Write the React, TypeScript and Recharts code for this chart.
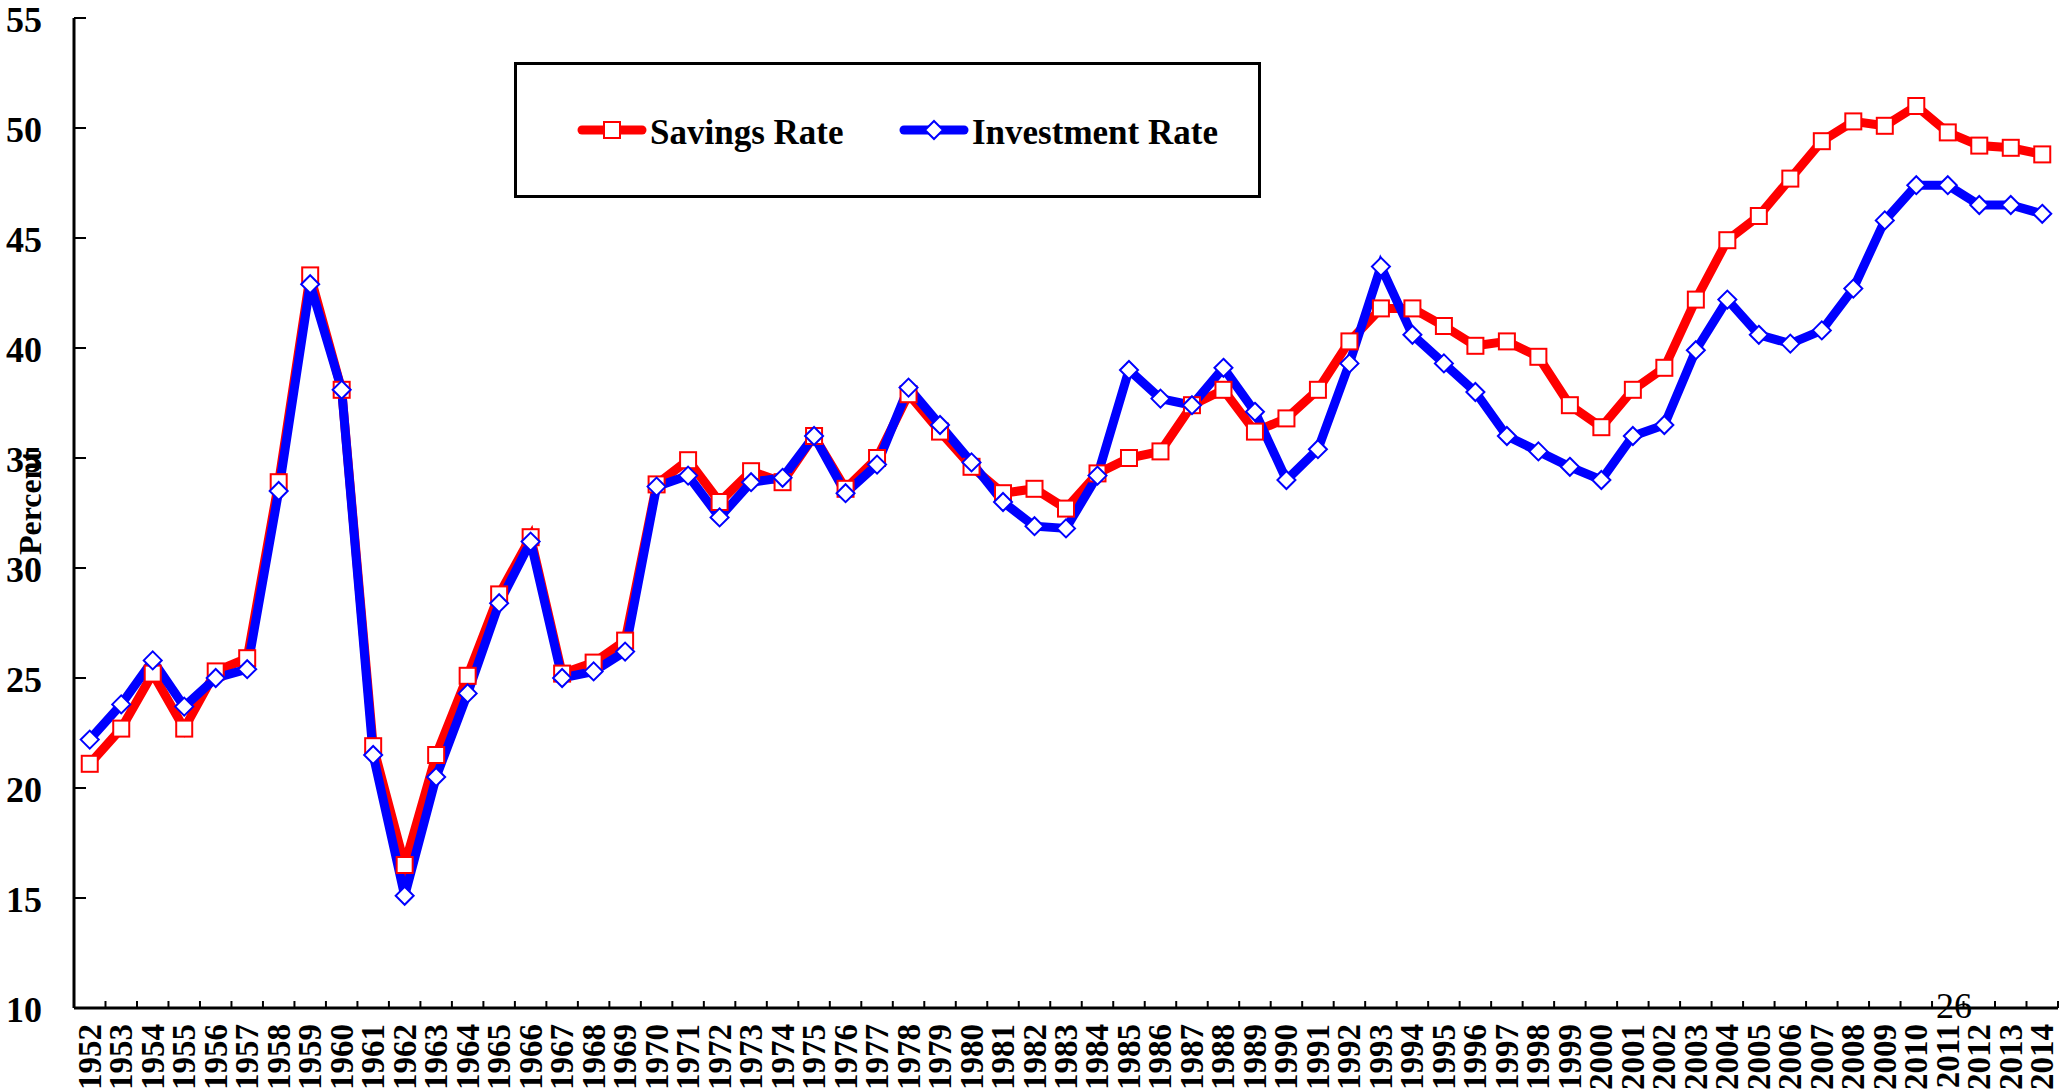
import React from "react";
import { LineChart, Line, XAxis, YAxis, Legend } from "recharts";

const years = [
  "1952", "1953", "1954", "1955", "1956", "1957", "1958", "1959", "1960", "1961",
  "1962", "1963", "1964", "1965", "1966", "1967", "1968", "1969", "1970", "1971",
  "1972", "1973", "1974", "1975", "1976", "1977", "1978", "1979", "1980", "1981",
  "1982", "1983", "1984", "1985", "1986", "1987", "1988", "1989", "1990", "1991",
  "1992", "1993", "1994", "1995", "1996", "1997", "1998", "1999", "2000", "2001",
  "2002", "2003", "2004", "2005", "2006", "2007", "2008", "2009", "2010", "2011",
  "2012", "2013", "2014",
];

const savingsRate = [
  21.1, 22.7, 25.2, 22.7, 25.3, 25.9, 33.9, 43.3, 38.1, 21.9,
  16.5, 21.5, 25.1, 28.8, 31.4, 25.2, 25.7, 26.7, 33.8, 34.9,
  33.0, 34.4, 33.9, 36.0, 33.6, 35.0, 37.9, 36.2, 34.6, 33.4,
  33.6, 32.7, 34.3, 35.0, 35.3, 37.4, 38.1, 36.2, 36.8, 38.1,
  40.3, 41.8, 41.8, 41.0, 40.1, 40.3, 39.6, 37.4, 36.4, 38.1,
  39.1, 42.2, 44.9, 46.0, 47.7, 49.4, 50.3, 50.1, 51.0, 49.8,
  49.2, 49.1, 48.8,
];

const investmentRate = [
  22.2, 23.8, 25.8, 23.7, 25.0, 25.4, 33.5, 42.9, 38.1, 21.5,
  15.1, 20.5, 24.3, 28.4, 31.2, 25.0, 25.3, 26.2, 33.7, 34.2,
  32.3, 33.9, 34.1, 36.0, 33.4, 34.7, 38.2, 36.5, 34.8, 33.0,
  31.9, 31.8, 34.2, 39.0, 37.7, 37.4, 39.1, 37.1, 34.0, 35.4,
  39.3, 43.7, 40.6, 39.3, 38.0, 36.0, 35.3, 34.6, 34.0, 36.0,
  36.5, 39.9, 42.2, 40.6, 40.2, 40.8, 42.7, 45.8, 47.4, 47.4,
  46.5, 46.5, 46.1,
];

const yTicks = [10, 15, 20, 25, 30, 35, 40, 45, 50, 55];

const data = years.map((year, i) => ({
  year,
  savings: savingsRate[i],
  investment: investmentRate[i],
}));

const W = 2063;
const H = 1092;
const MARGIN = { top: 18, right: 5, left: 0, bottom: 0 };
const Y_AXIS_W = 74;
const X_AXIS_H = 84;
const FONT = '"Liberation Serif", "Times New Roman", serif';
const RED = "#ff0000";
const BLUE = "#0000ff";
const LINE_W = 9;

// width of one year slot; points sit in the middle of their slot
const bandWidth = (W - MARGIN.left - MARGIN.right - Y_AXIS_W) / years.length;

const SquareDot = (props: any) => {
  const { cx, cy, index } = props;
  if (cx == null || cy == null) return <g key={`s-${index}`} />;
  return (
    <rect key={`s-${index}`} x={cx - 8} y={cy - 8} width={16} height={16}
      fill="#fff" stroke={RED} strokeWidth={2} />
  );
};

const DiamondDot = (props: any) => {
  const { cx, cy, index } = props;
  if (cx == null || cy == null) return <g key={`d-${index}`} />;
  const r = 9;
  return (
    <polygon key={`d-${index}`}
      points={`${cx},${cy - r} ${cx + r},${cy} ${cx},${cy + r} ${cx - r},${cy}`}
      fill="#fff" stroke={BLUE} strokeWidth={2} />
  );
};

const XTick = (props: any) => {
  const { x, y, payload } = props;
  const edge = x + bandWidth / 2;
  const ty = y + 16;
  return (
    <g>
      <line x1={edge} y1={y} x2={edge} y2={y - 7} stroke="#000" strokeWidth={2} />
      <text x={x} y={ty} transform={`rotate(-90, ${x}, ${ty})`}
        textAnchor="end" dominantBaseline="central"
        fontFamily={FONT} fontWeight="bold" fontSize={33} fill="#000">
        {payload.value}
      </text>
    </g>
  );
};

const YTick = (props: any) => {
  const { x, y, payload } = props;
  return (
    <g>
      <line x1={x} y1={y} x2={x + 12} y2={y} stroke="#000" strokeWidth={2} />
      <text x={x - 32} y={y + 2} textAnchor="end" dominantBaseline="central"
        fontFamily={FONT} fontWeight="bold" fontSize={36} fill="#000">
        {payload.value}
      </text>
    </g>
  );
};

const LegendBox = (props: any) => {
  const items = props.payload || [];
  const order = ["savings", "investment"];
  const starts: Record<string, number> = { savings: 64, investment: 386 };
  const sorted = order
    .map((k) => items.find((it: any) => it.dataKey === k))
    .filter(Boolean);
  return (
    <svg width={747} height={136}>
      <rect x={1.5} y={1.5} width={744} height={133} fill="#fff" stroke="#000" strokeWidth={3} />
      {sorted.map((item: any) => {
        const sx = starts[item.dataKey];
        const cy = 68;
        const mid = sx + 34;
        return (
          <g key={item.value}>
            <line x1={sx + 4} y1={cy} x2={sx + 64} y2={cy} stroke={item.color}
              strokeWidth={LINE_W} strokeLinecap="round" />
            {item.dataKey === "savings" ? (
              <rect x={mid - 8} y={cy - 8} width={16} height={16} fill="#fff" stroke={RED} strokeWidth={2} />
            ) : (
              <polygon points={`${mid},${cy - 9} ${mid + 9},${cy} ${mid},${cy + 9} ${mid - 9},${cy}`}
                fill="#fff" stroke={BLUE} strokeWidth={2} />
            )}
            <text x={sx + 72} y={cy + 2} dominantBaseline="central" fontFamily={FONT}
              fontWeight="bold" fontSize={35} fill="#000">
              {item.value}
            </text>
          </g>
        );
      })}
    </svg>
  );
};

export default function App() {
  return (
    <div style={{ position: "absolute", left: 0, top: 0, width: W, height: H, background: "#fff" }}>
      <LineChart width={W} height={H} data={data} margin={MARGIN}>
        <XAxis dataKey="year" height={X_AXIS_H} interval={0} tick={<XTick />}
          padding={{ left: bandWidth / 2, right: bandWidth / 2 }}
          tickLine={false} tickSize={0} tickMargin={0}
          axisLine={{ stroke: "#000", strokeWidth: 3 }} />
        <YAxis domain={[10, 55]} ticks={yTicks} width={Y_AXIS_W} tick={<YTick />}
          tickLine={false} tickSize={0} tickMargin={0} allowDataOverflow
          axisLine={{ stroke: "#000", strokeWidth: 3 }}
          label={{
            content: ({ viewBox }: any) => {
              const cy = viewBox.y + viewBox.height / 2 - 10;
              return (
                <text x={30} y={cy} transform={`rotate(-90, 30, ${cy})`}
                  textAnchor="middle" dominantBaseline="central"
                  fontFamily={FONT} fontWeight="bold" fontSize={32} fill="#000">
                  Percent
                </text>
              );
            },
          }} />
        <Legend verticalAlign="middle" align="center" layout="horizontal"
          wrapperStyle={{ left: 514, top: 62, width: 747, height: 136 }}
          content={<LegendBox />} />
        <Line type="linear" dataKey="savings" name="Savings Rate" stroke={RED}
          strokeWidth={LINE_W} dot={SquareDot} activeDot={false} isAnimationActive={false} />
        <Line type="linear" dataKey="investment" name="Investment Rate" stroke={BLUE}
          strokeWidth={LINE_W} dot={DiamondDot} activeDot={false} isAnimationActive={false} />
      </LineChart>
      <div style={{ position: "absolute", left: 1936, top: 988, fontFamily: FONT, fontSize: 36,
        lineHeight: "36px", color: "#000" }}>
        26
      </div>
    </div>
  );
}
